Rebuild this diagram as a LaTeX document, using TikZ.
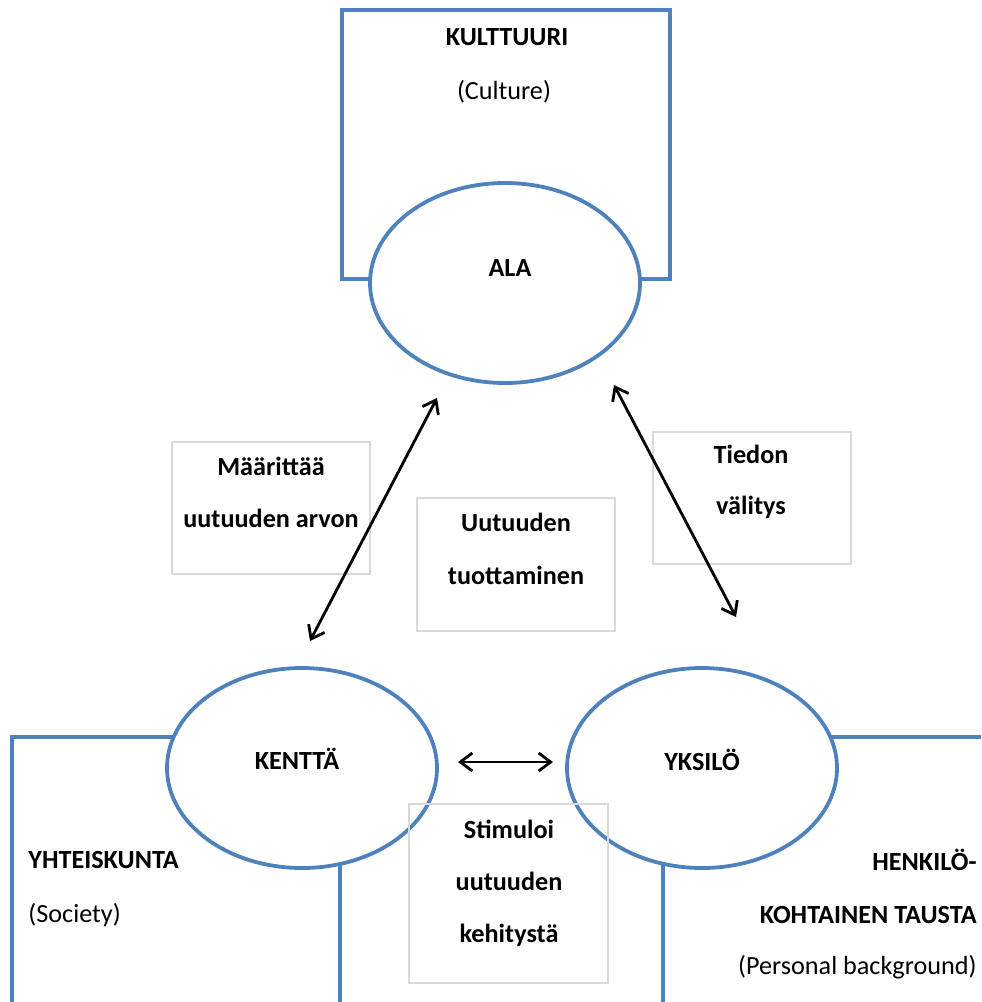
\documentclass[tikz,border=0pt]{standalone}
\usepackage{fontspec}
\setmainfont{Carlito}
\usetikzlibrary{shapes.geometric,arrows.meta}
\definecolor{frameblue}{HTML}{4F81BD}
\definecolor{boxgray}{HTML}{D9D9D9}
\tikzset{
  ell/.style={ellipse,draw=frameblue,line width=1.9pt,fill=white,minimum width=135pt,minimum height=100pt,inner sep=0pt},
  frame/.style={draw=frameblue,line width=1.9pt},
  tbox/.style={draw=boxgray,line width=0.6pt},
  ttl/.style={font=\fontsize{13.1}{15}\selectfont\bfseries,inner sep=0pt},
  sub/.style={font=\fontsize{13.1}{15}\selectfont,inner sep=0pt},
  arr/.style={line width=1.4pt,{Straight Barb[length=6pt,width=9pt]}-{Straight Barb[length=6pt,width=9pt]}}
}
\begin{document}
\begin{tikzpicture}[x=0.5pt,y=-0.5pt]
\useasboundingbox (0,0) rectangle (981,1002);
% frames
\draw[frame] (420,279) -- (342,279) -- (342,10) -- (670,10) -- (670,279) -- (560,279);
\draw[frame] (12,1002) -- (12,737) -- (200,737);
\draw[frame] (340,800) -- (340,1002);
\draw[frame] (800,737) -- (981,737);
\draw[frame] (663,800) -- (663,1002);
% ellipses
\node[ell] (ala) at (505,283) {};
\node[ell] (kentta) at (302,768) {};
\node[ell] (yksilo) at (702,768) {};
\node[ttl] (alaT) at (510,268) {ALA};
\node[ttl] (kenttaT) at (297,759) {KENTTÄ};
\node[ttl] (yksiloT) at (702,760) {YKSILÖ};
% frame texts
\node[ttl] (kult) at (507,37) {KULTTUURI};
\node[sub] (cult) at (504,92) {(Culture)};
\node[ttl,anchor=west] (yht) at (28,860) {YHTEISKUNTA};
\node[sub,anchor=west] (soc) at (28,915) {(Society)};
\node[ttl,anchor=east] (henk) at (977,860) {HENKILÖ-};
\node[ttl,anchor=east] (koht) at (977,915) {KOHTAINEN TAUSTA};
\node[sub,anchor=east] (pers) at (977,967) {(Personal background)};
% text boxes
\draw[tbox] (172,442) rectangle (370,574);
\node[ttl] (m1) at (271,466) {Määrittää};
\node[ttl] (m2) at (271,518) {uutuuden arvon};
\draw[tbox] (417,498) rectangle (615,631);
\node[ttl] (u1) at (516,522) {Uutuuden};
\node[ttl] (u2) at (516,575) {tuottaminen};
\draw[tbox] (653,432) rectangle (851,564);
\node[ttl] (t1) at (751,454) {Tiedon};
\node[ttl] (t2) at (751,507) {välitys};
\draw[tbox] (409,804) rectangle (608,983);
\node[ttl] (s1) at (509,829) {Stimuloi};
\node[ttl] (s2) at (509,881) {uutuuden};
\node[ttl] (s3) at (509,935) {kehitystä};
% arrows
\coordinate (a1) at (310,641);
\coordinate (a2) at (437,398);
\coordinate (b1) at (614,385);
\coordinate (b2) at (736,617);
\coordinate (c1) at (458,762);
\coordinate (c2) at (553,762);
\draw[arr] (a1) -- (a2);
\draw[arr] (b1) -- (b2);
\draw[arr] (c1) -- (c2);
\end{tikzpicture}
\end{document}
